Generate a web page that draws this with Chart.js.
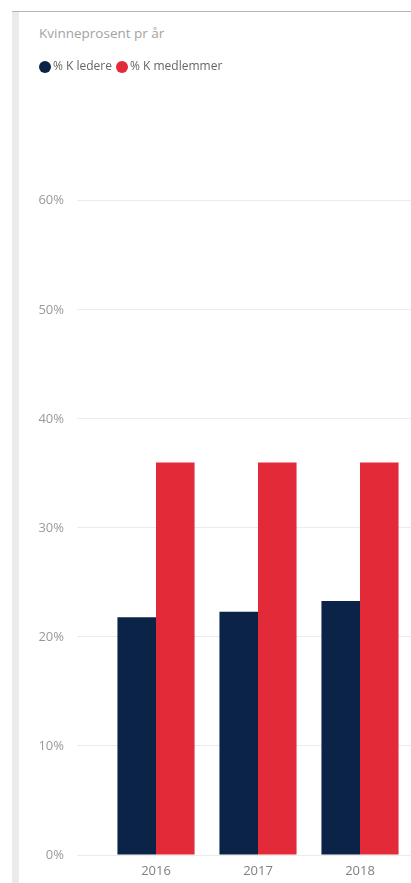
<!DOCTYPE html>
<html>
<head>
<meta charset="utf-8">
<script src="https://cdn.jsdelivr.net/npm/chart.js@4/dist/chart.umd.min.js"></script>
<style>
  html, body { margin: 0; padding: 0; background: #fff; }
  body { width: 411px; height: 883px; position: relative; overflow: hidden; font-family: "Open Sans", sans-serif; }
  #topline { position: absolute; left: 12px; top: 11px; width: 399px; height: 1px; background: #b4b4b4; }
  #strip { position: absolute; left: 12px; top: 12px; width: 7px; height: 871px; background: #ebebeb; }
  #title { position: absolute; left: 39px; top: 24px; font-size: 13.5px; color: #a3a3a3; white-space: nowrap; }
  #wrap { position: absolute; left: 0; top: 0; width: 411px; height: 883px; }
</style>
</head>
<body>
<div id="topline"></div>
<div id="strip"></div>
<div id="title">Kvinneprosent pr år</div>
<div id="wrap"><canvas id="bar-chart"></canvas></div>
<script>
// data
const years = ["2016", "2017", "2018"];
const lederePct = [0.218, 0.223, 0.233];
const medlemmerPct = [0.36, 0.36, 0.36];
const seriesNames = ["% K ledere", "% K medlemmer"];
const seriesColors = ["#0b2346", "#e32a39"];

Chart.defaults.font.family = '"Open Sans", sans-serif';
Chart.defaults.font.size = 12;
Chart.defaults.color = "#999";

function showGraph() {
    let chartdata = {
        labels: years,
        datasets: [{
            label: seriesNames[0],
            data: lederePct,
            backgroundColor: seriesColors[0],
            categoryPercentage: 0.756,
            barPercentage: 1.0
        }, {
            label: seriesNames[1],
            data: medlemmerPct,
            backgroundColor: seriesColors[1],
            categoryPercentage: 0.756,
            barPercentage: 1.0
        }]
    };

    let graphTarget = document.querySelector("#bar-chart");

    new Chart(graphTarget, {
        type: 'bar',
        data: chartdata,
        options: {
            responsive: true,
            maintainAspectRatio: false,
            animation: false,
            layout: { padding: { left: 35, top: 53, right: 0, bottom: 0 } },
            plugins: {
                tooltip: { enabled: false },
                legend: {
                    align: 'start',
                    labels: {
                        usePointStyle: true,
                        pointStyle: 'circle',
                        boxWidth: 4,
                        boxHeight: 8.5,
                        padding: 8,
                        color: "#666",
                        font: { size: 12 }
                    }
                }
            },
            scales: {
                x: {
                    grid: { display: false, drawTicks: false },
                    border: { display: false },
                    ticks: { color: "#808080", padding: 8, font: { size: 13 } },
                    afterFit: function (scale) { scale.height = 28; }
                },
                y: {
                    min: 0,
                    max: 0.708,
                    border: { display: false },
                    grid: {
                        color: function (ctx) {
                            return ctx.tick && ctx.tick.value > 0.65 ? 'rgba(0,0,0,0)' : '#ebebeb';
                        },
                        tickLength: 28,
                        lineWidth: 1
                    },
                    ticks: {
                        stepSize: 0.1,
                        padding: 13,
                        color: "#999",
                        font: { size: 13 },
                        callback: function (v) {
                            if (v > 0.65) return '';
                            return Math.round(v * 100) + '%';
                        }
                    },
                    afterFit: function (scale) { scale.width = 70; }
                }
            }
        }
    });
}

showGraph();
</script>
</body>
</html>
